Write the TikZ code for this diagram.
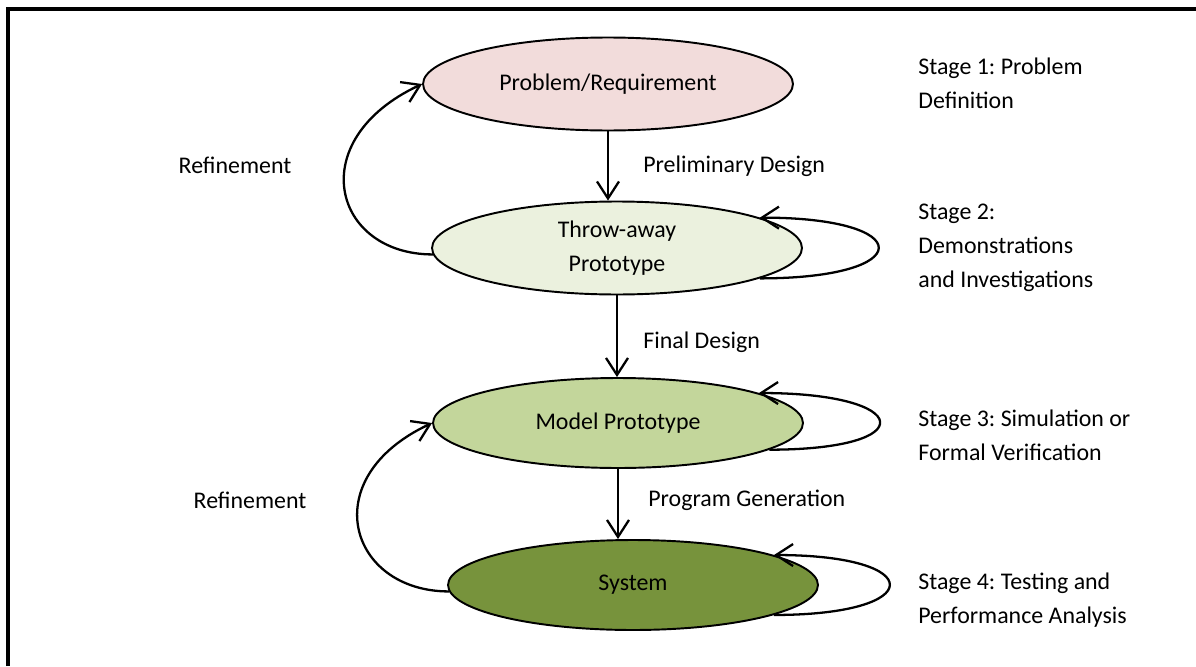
\documentclass[tikz,border=0pt]{standalone}
\usepackage{fontspec}
\setmainfont{Carlito}
\usepackage{xcolor}
\usepackage{tikz}
\usetikzlibrary{
  positioning,
  shapes.geometric,
  arrows.meta
}
\frenchspacing

\definecolor{probpink}{HTML}{F2DCDB}
\definecolor{throwgreen}{HTML}{EBF1DE}
\definecolor{modelgreen}{HTML}{C3D69B}
\definecolor{sysgreen}{HTML}{77933C}

\tikzset{
  stagebox/.style={ellipse, draw, line width=1.1pt, inner sep=0pt, align=center,
    minimum width=7.4cm, minimum height=1.86cm},
  arr/.style={-{Straight Barb[length=3.4mm,width=4.4mm]}, line width=1.3pt},
  lbl/.style={inner sep=0pt, align=left, anchor=west}
}

\begin{document}
\begin{tikzpicture}[x=0.02cm,y=-0.02cm,font=\fontsize{13.6}{19.3}\selectfont]
  \useasboundingbox (0,0) rectangle (1196,666);
  \draw[line width=2pt] (8,666) -- (8,9) -- (1196,9);

  % the four stages
  \node[stagebox, fill=probpink] (prob) at (608,84) {Problem/Requirement};
  \node[stagebox, fill=throwgreen] (throw) at (617,248) {Throw-away\\Prototype};
  \node[stagebox, fill=modelgreen, minimum height=1.8cm] (model) at (618,423) {Model Prototype};
  \node[stagebox, fill=sysgreen, minimum height=1.8cm] (sys) at (633,585) {System};

  \draw[arr] (prob.south) -- (prob.south |- throw.north);
  \draw[arr] (throw.south) -- (throw.south |- model.north);
  \draw[arr] (model.south) -- (model.south |- sys.north);

  % refinement loops
  \draw[arr] (throw.182) .. controls +(-100,0) and +(-120,56) .. (prob.west);
  \draw[arr] (sys.182) .. controls +(-100,0) and +(-118,55) .. (model.west);

  % self loops
  \draw[arr] (throw.348) .. controls +(158,0) and +(158,0) .. (throw.12);
  \draw[arr] (model.350) .. controls +(154,0) and +(154,0) .. (model.12);
  \draw[arr] (sys.348) .. controls +(154,0) and +(154,0) .. (sys.12);

  \node[inner sep=0pt] (refine1) at (235,165) {Refinement};
  \node[inner sep=0pt] (refine2) at (250,500) {Refinement};
  \node[lbl] (prelim) at (643,166) {Preliminary Design};
  \node[lbl] (final) at (643,342) {Final Design};
  \node[lbl] (progen) at (648,500) {Program Generation};

  \node[lbl] (stage1) at (918,83) {Stage 1: Problem\\Definition};
  \node[lbl] (stage2) at (918,248) {Stage 2:\\Demonstrations\\and Investigations};
  \node[lbl] (stage3) at (918,435) {Stage 3: Simulation or\\Formal Verification};
  \node[lbl] (stage4) at (918,600) {Stage 4: Testing and\\Performance Analysis};
\end{tikzpicture}
\end{document}
